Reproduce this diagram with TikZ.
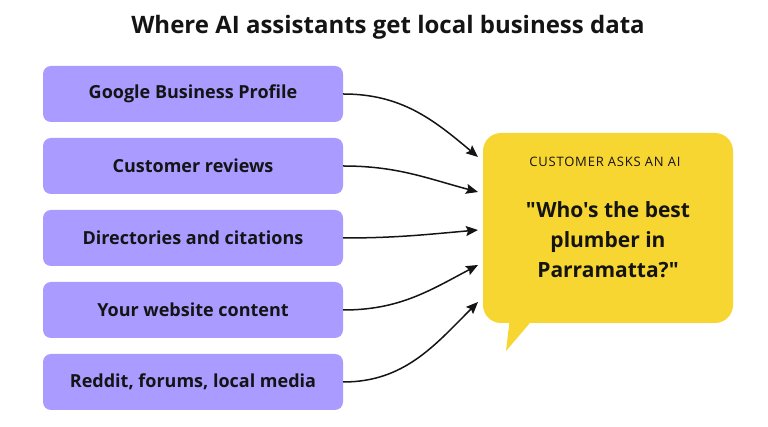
\documentclass[tikz,border=0pt]{standalone}
\usepackage{xcolor}
\usepackage{fontspec}
\setmainfont{Open Sans}[Ligatures=TeXOff]
\usepackage{tikz}
\usetikzlibrary{arrows.meta, positioning}

\definecolor{srcpurple}{RGB}{169,155,255}
\definecolor{askyellow}{RGB}{247,214,49}
\definecolor{inkdark}{RGB}{20,20,20}

\begin{document}
\begin{tikzpicture}[
    x=1pt, y=1pt,
    >={Stealth[length=12pt, width=10pt, inset=2pt]},
    source/.style={fill=srcpurple, rounded corners=8pt, minimum width=300pt, minimum height=56pt,
                   font=\fontsize{18}{22}\selectfont\bfseries, text=inkdark},
    feed/.style={->, line width=1.5pt, draw=inkdark}
]
\useasboundingbox (0,0) rectangle (768,427);

% Title
\node[font=\fontsize{24}{28}\selectfont\bfseries, text=inkdark] (title) at (388,400) {Where AI assistants get local business data};

% Sources
\node[source] (gbp) at (193,333) {Google Business Profile};
\node[source] (rev) at (193,261) {Customer reviews};
\node[source] (dir) at (193,189) {Directories and citations};
\node[source] (web) at (193,117) {Your website content};
\node[source] (red) at (193,45) {Reddit, forums, local media};

% Speech bubble
\fill[askyellow] (510,110) -- (506,76) -- (535,110) -- cycle;
\node[fill=askyellow, rounded corners=18pt, minimum width=250pt, minimum height=190pt] (bubble) at (608,199) {};
\node[font=\fontsize{13}{15}\selectfont\addfontfeature{LetterSpace=6}, text=inkdark] (ask) at (605,265) {CUSTOMER ASKS AN AI};
\node[font=\fontsize{21}{30}\selectfont\bfseries, text=inkdark, align=center] (quote) at (608,187) {"Who's the best\\plumber in\\Parramatta?"};

% Arrow ends
\coordinate (t1) at (478,270);
\coordinate (t2) at (478,235);
\coordinate (t3) at (478,197);
\coordinate (t4) at (478,162);
\coordinate (t5) at (478,125);

% Arrows
\draw[feed] (gbp.east) to[out=0, in=140] (t1);
\draw[feed] (rev.east) to[out=0, in=165] (t2);
\draw[feed] (dir.east) to[out=0, in=185] (t3);
\draw[feed] (web.east) to[out=0, in=208] (t4);
\draw[feed] (red.east) to[out=0, in=225] (t5);

\end{tikzpicture}
\end{document}
